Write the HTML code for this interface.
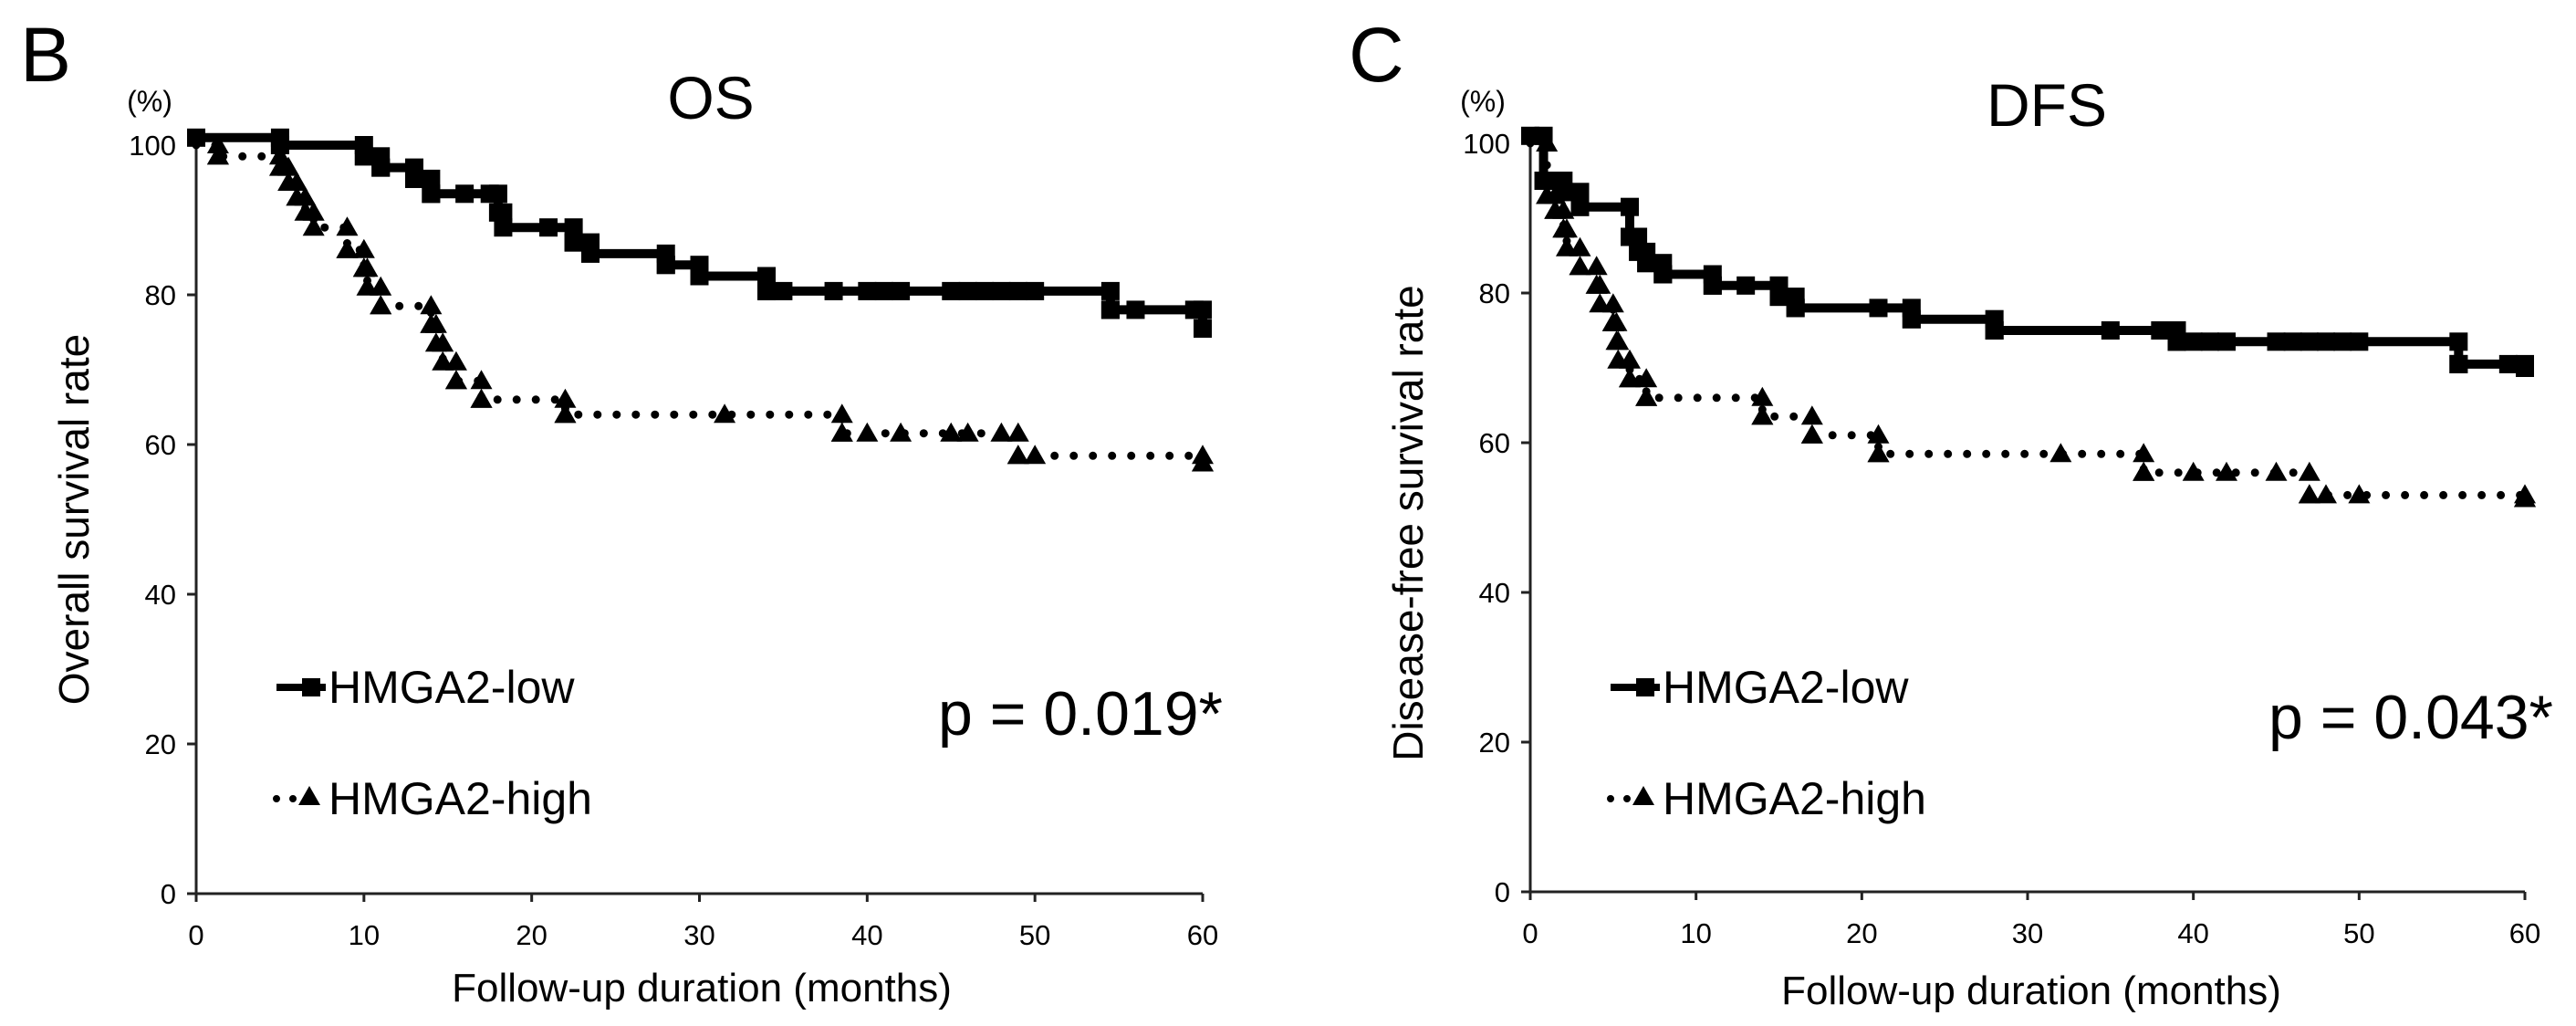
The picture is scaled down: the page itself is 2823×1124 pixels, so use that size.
<!DOCTYPE html>
<html><head><meta charset="utf-8"><style>
html,body{margin:0;padding:0;background:#fff;}
svg{display:block;font-family:"Liberation Sans",Arial,sans-serif;}
</style></head><body>
<svg id="fig" width="2823" height="1124" viewBox="0 0 2823 1124" xmlns="http://www.w3.org/2000/svg">
<rect width="2823" height="1124" fill="#fff"/>
<g id="panelB">
<text x="22" y="89" font-size="84">B</text>
<text x="779" y="130" font-size="66" text-anchor="middle">OS</text>
<text x="164" y="122" font-size="32" text-anchor="middle">(%)</text>
<text transform="translate(97,569) rotate(-90)" font-size="46" text-anchor="middle">Overall survival rate</text>
<text x="769" y="1097" font-size="44" text-anchor="middle">Follow-up duration (months)</text>
<text x="1340" y="805" font-size="68" text-anchor="end">p = 0.019*</text>
<text x="360" y="770" font-size="50">HMGA2-low</text>
<text x="360" y="892" font-size="50">HMGA2-high</text>
</g>
<g id="panelC">
<text x="1478" y="89" font-size="84">C</text>
<text x="2243" y="138" font-size="66" text-anchor="middle">DFS</text>
<text x="1625" y="122" font-size="32" text-anchor="middle">(%)</text>
<text transform="translate(1559,573) rotate(-90)" font-size="46" text-anchor="middle">Disease-free survival rate</text>
<text x="2226" y="1100" font-size="44" text-anchor="middle">Follow-up duration (months)</text>
<text x="2798" y="809" font-size="68" text-anchor="end">p = 0.043*</text>
<text x="1822" y="770" font-size="50">HMGA2-low</text>
<text x="1822" y="892" font-size="50">HMGA2-high</text>
</g>
</svg>
<script>
const xTicks = [0,10,20,30,40,50,60];
const yTicks = [0,20,40,60,80,100];
// OS
const osLowTimes = [5,10,11,13,14,18,18.3,22.5,23.5,28,30,34,54.5,60];
const osLowSurv  = [100,98.5,97,95.5,93.5,91,89,87,85.5,84,82.5,80.5,78,75.5];
const osLowCensor = [0,5,10,11,13,14,16,17.5,21,22.5,28,30,34,35,38,40,41,42,45,46,47,48,49,50,54.5,56,59.5,60];
const osHighTimes = [1.3,5,5.5,6,6.5,7,9,10,10.2,11,14,14.3,14.7,15.5,17,22,38.5,49,60];
const osHighSurv  = [98.5,97,95,93,91,89,86,83.5,81,78.5,76,73.5,71,68.5,66,64,61.5,58.5,57.5];
const osHighCensor = [1.3,9,10,11,14,15.5,17,22,31.5,38.5,40,42,45,46,48,49,50,60];
// DFS
const dfsLowTimes = [0.8,2,3,6,6.5,7,8,11,15,16,23,28,39,56,60];
const dfsLowSurv  = [95,93.5,91.5,87.5,85.5,84,82.5,81,79.5,78,76.5,75,73.5,70.5,70];
const dfsLowCensor = [0,1,2,3,6,7,8,11,13,15,16,21,23,28,35,38,39,40,41,42,45,46,47,48,49,50,56,59,60];
const dfsHighTimes = [1,1.5,2,2.2,3,4,4.2,5,5.2,5.3,6,7,14,17,21,37,47,60];
const dfsHighSurv  = [93,91,88.5,86,83.5,81,78.5,76,73.5,71,68.5,66,63.5,61,58.5,56,53,52.5];
const dfsHighCensor = [1,1.5,2,3,4,5,6,7,14,17,21,32,37,40,42,45,47,48,50,60];

const NS='http://www.w3.org/2000/svg';
function mk(tag,attrs,parent){const e=document.createElementNS(NS,tag);for(const k in attrs)e.setAttribute(k,attrs[k]);parent.appendChild(e);return e;}

function drawPanel(gid,x0,x60,y0,lowT,lowS,lowC,highT,highS,highC,legX){
  const g=document.getElementById(gid);
  const sx=t=>x0+(x60-x0)*t/60;
  const sy=v=>y0-8.2*v;
  const ax=mk('path',{d:`M${x0},${sy(100)-8} L${x0},${y0} L${x60},${y0}`,stroke:'#222','stroke-width':3,fill:'none'},g);
  
  
  yTicks.forEach(v=>{
    const l=mk('line',{x1:x0-10,x2:x0,y1:sy(v),y2:sy(v),stroke:'#222','stroke-width':3},g);
    
    
    const t=mk('text',{x:x0-22,y:sy(v)+11,'font-size':31,'text-anchor':'end'},g);t.textContent=v;
    
    
  });
  xTicks.forEach(v=>{
    const l=mk('line',{x1:sx(v),x2:sx(v),y1:y0,y2:y0+9,stroke:'#222','stroke-width':3},g);
    
    
    const t=mk('text',{x:sx(v),y:y0+56,'font-size':31,'text-anchor':'middle'},g);t.textContent=v;
    
    
  });
  function stepVal(T,S,t,start){let v=start;for(let i=0;i<T.length;i++){if(T[i]<=t)v=S[i];}return v;}
  function stepVal0(T,S,t,start){let v=start;for(let i=0;i<T.length;i++){if(T[i]<t)v=S[i];}return v;}
  let d=`M${sx(0)},${sy(100)}`;let prev=100;
  highT.forEach((t,i)=>{d+=` L${sx(t)},${sy(prev)} L${sx(t)},${sy(highS[i])}`;prev=highS[i];});
  const hp=mk('path',{d:d,stroke:'#000','stroke-width':9,fill:'none','stroke-linecap':'round','stroke-dasharray':'0 21'},g);
  
  
  function tri(x,y){const s=12;const p=mk('polygon',{points:`${x},${y-s} ${x-s},${y+s*0.75} ${x+s},${y+s*0.75}`,fill:'#000'},g);
    
    }
  highT.forEach((t,i)=>{tri(sx(t),sy(stepVal0(highT,highS,t,100)));tri(sx(t),sy(highS[i]));});
  highC.forEach(t=>tri(sx(t),sy(stepVal(highT,highS,t,100))));
  d=`M${sx(0)},${sy(101)}`;prev=101;
  lowT.forEach((t,i)=>{d+=` L${sx(t)},${sy(prev)} L${sx(t)},${sy(lowS[i])}`;prev=lowS[i];});
  const lp=mk('path',{d:d,stroke:'#000','stroke-width':10,fill:'none'},g);
  
  
  function sq(x,y){const s=10;const r=mk('rect',{x:x-s,y:y-s,width:2*s,height:2*s,fill:'#000'},g);
    
    }
  lowT.forEach((t,i)=>{sq(sx(t),sy(stepVal0(lowT,lowS,t,101)));sq(sx(t),sy(lowS[i]));});
  lowC.forEach(t=>sq(sx(t),sy(stepVal(lowT,lowS,t,101))));
  const l1=mk('line',{x1:legX,x2:legX+54,y1:753,y2:753,stroke:'#000','stroke-width':8},g);
  
  
  sq(legX+38,753);
  const l2=mk('line',{x1:legX,x2:legX+54,y1:875,y2:875,stroke:'#000','stroke-width':8,'stroke-linecap':'round','stroke-dasharray':'0 18'},g);
  
  
  tri(legX+36,873);
}
drawPanel('panelB',215,1318,979,osLowTimes,osLowSurv,osLowCensor,osHighTimes,osHighSurv,osHighCensor,303);
drawPanel('panelC',1677,2767,977,dfsLowTimes,dfsLowSurv,dfsLowCensor,dfsHighTimes,dfsHighSurv,dfsHighCensor,1765);
</script>
</body></html>
